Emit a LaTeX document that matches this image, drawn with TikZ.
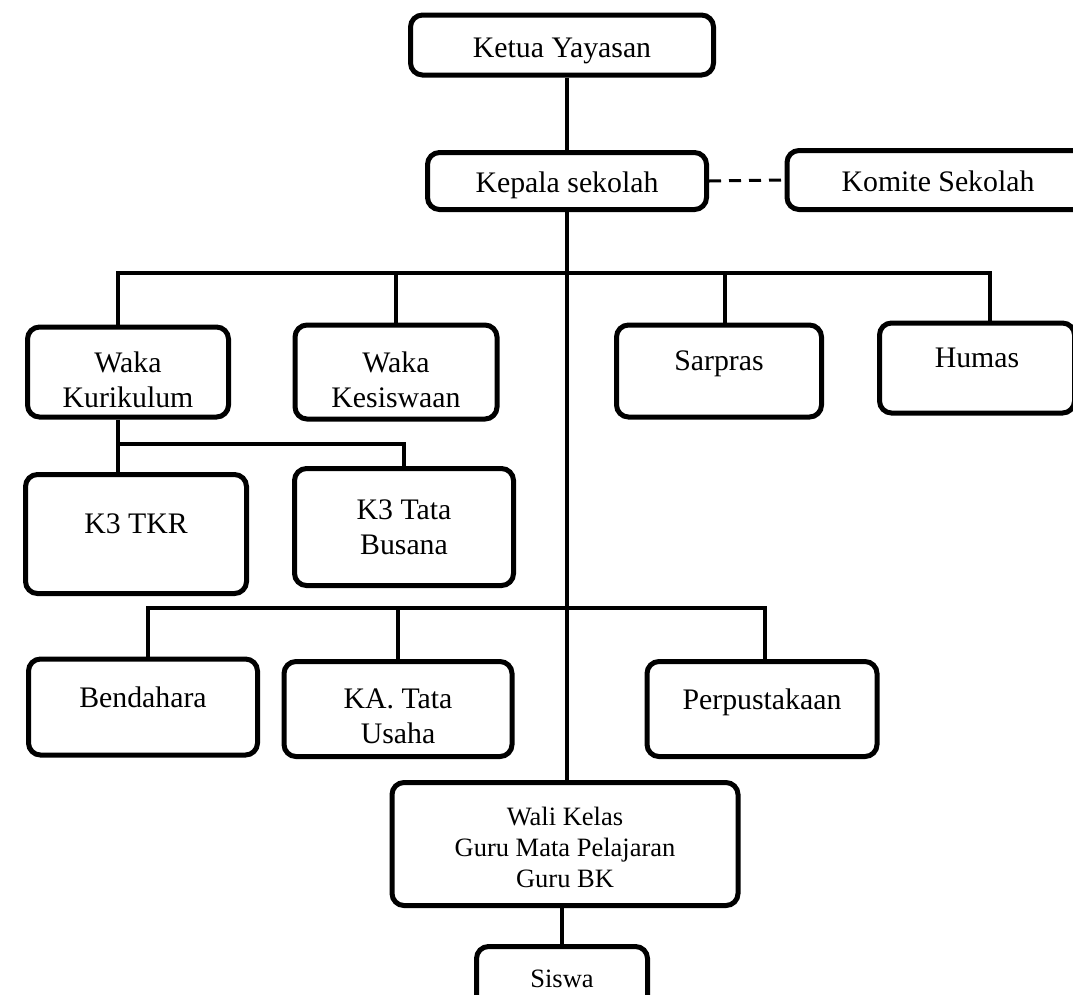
\documentclass[tikz,border=0pt]{standalone}
\usepackage{fontspec}
\setmainfont{Liberation Serif}
\usetikzlibrary{calc}
\newcommand\padtop[1]{\rule{0pt}{#1}}
\begin{document}
\begin{tikzpicture}
  [x=1pt,y=-1pt,
   box/.style={draw,line width=5pt,rounded corners=12pt,fill=white,align=center,
     inner sep=0pt,font=\fontsize{29.8}{35}\selectfont},
   onebox/.style={box,text depth=20pt},
   small/.style={font=\fontsize{26.5}{31}\selectfont},
   link/.style={line width=4.5pt}]
  \fill[white] (0,0) rectangle (1073,994);
  \useasboundingbox (0,0) rectangle (1073,994);

  \node[box,minimum width=303pt,minimum height=60pt] (ketua) at (562,45) {\padtop{32pt}Ketua Yayasan};
  \node[box,minimum width=279pt,minimum height=57pt] (kepala) at (567,181) {\padtop{30pt}Kepala sekolah};
  \node[box,minimum width=302pt,minimum height=59pt] (komite) at (938,180) {\padtop{24pt}Komite Sekolah};

  \node[box,minimum width=201pt,minimum height=90pt] (wakakur) at (128,372) {\padtop{36pt}Waka\\Kurikulum};
  \node[box,minimum width=202pt,minimum height=94pt] (wakakes) at (396,372) {\padtop{36pt}Waka\\Kesiswaan};
  \node[onebox,minimum width=205pt,minimum height=92pt] (sarpras) at (719,371) {Sarpras};
  \node[onebox,minimum width=195pt,minimum height=90pt] (humas) at (977,368) {Humas};

  \node[onebox,minimum width=221pt,minimum height=119pt] (k3tkr) at (136,534) {K3 TKR};
  \node[box,minimum width=219pt,minimum height=117pt] (k3tb) at (404,527) {K3 Tata\\Busana};

  \node[onebox,minimum width=229pt,minimum height=96pt] (bendahara) at (143,707) {Bendahara};
  \node[box,minimum width=228pt,minimum height=95pt] (katu) at (398,709) {\padtop{34pt}KA. Tata\\Usaha};
  \node[onebox,minimum width=230pt,minimum height=95pt] (perpus) at (762,709) {Perpustakaan};

  \node[box,small,minimum width=346pt,minimum height=123pt] (wali) at (565,844)
    {\padtop{26pt}Wali Kelas\\Guru Mata Pelajaran\\Guru BK};
  \node[onebox,small,minimum width=171pt,minimum height=85pt] (siswa) at (562,989) {Siswa};

  \coordinate (busT) at (567,273);
  \coordinate (busS) at (0,444);
  \coordinate (busB) at (567,608);
  \coordinate (kk) at ($(wakakur.north)+(-10,0)$);
  \coordinate (kb) at ($(wakakur.south)+(-10,0)$);
  \coordinate (hm) at ($(humas.north)+(13,0)$);
  \coordinate (sp) at ($(sarpras.north)+(6,0)$);
  \coordinate (bd) at ($(bendahara.north)+(5,0)$);
  \coordinate (pp) at ($(perpus.north)+(3,0)$);

  \draw[link] (kepala.north |- ketua.south) -- (kepala.north);
  \draw[line width=3pt,dash pattern=on 12pt off 8pt] (kepala.east) -- (komite.west);
  \draw[link] (kepala.south) -- (kepala.south |- wali.north);

  \draw[link] (kk) |- (busT) -| (hm);
  \foreach \n in {wakakes.north,sp}
    \draw[link] (\n |- busT) -- (\n);

  \draw[link] (kb) -- (kb |- k3tkr.north);
  \draw[link] (kb |- busS) -| (k3tb.north);

  \draw[link] (bd) |- (busB) -| (pp);
  \draw[link] (katu.north |- busB) -- (katu.north);

  \draw[link] (siswa.north |- wali.south) -- (siswa.north);
\end{tikzpicture}
\end{document}
